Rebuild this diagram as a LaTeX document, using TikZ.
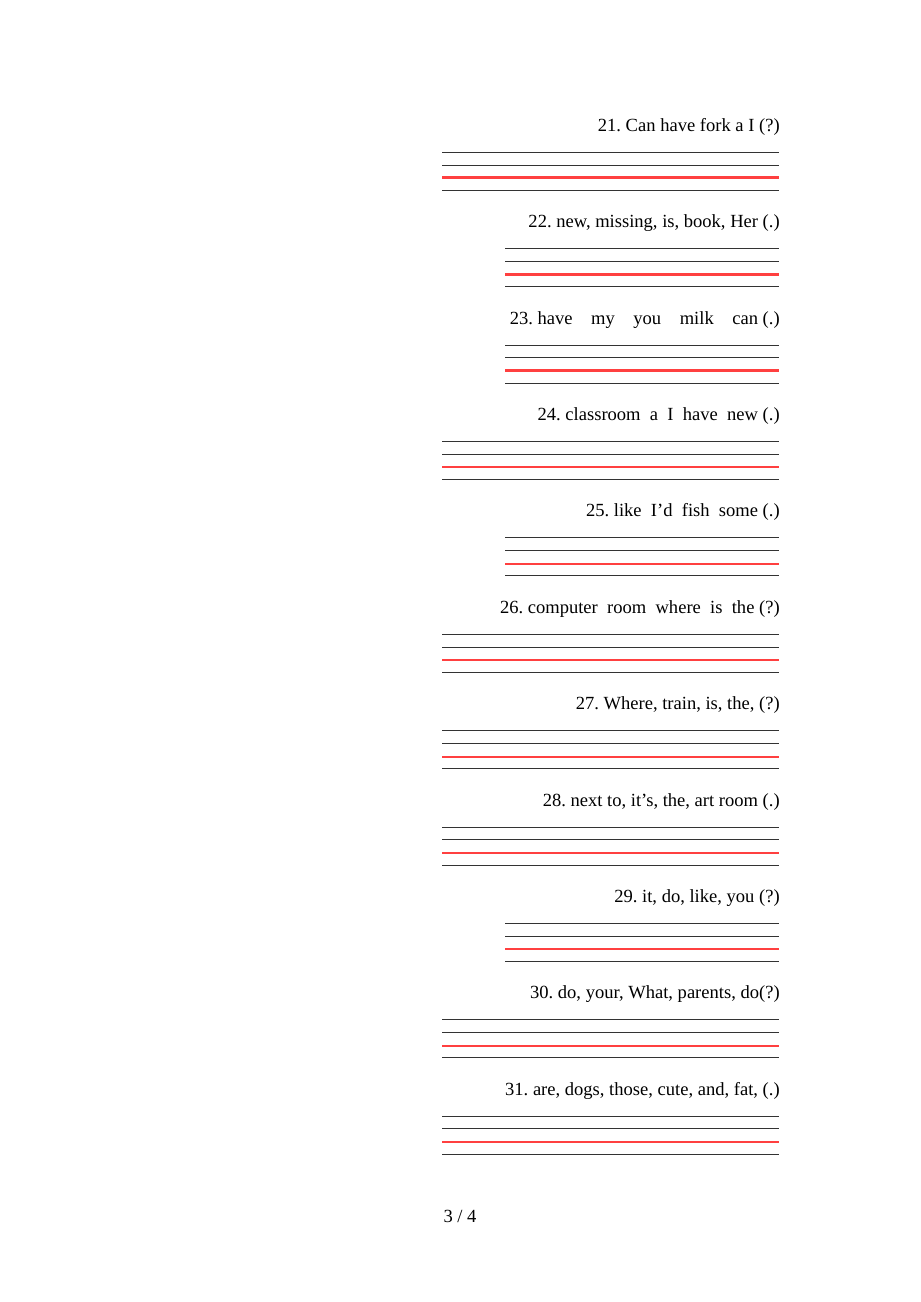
\documentclass[tikz,border=0pt]{standalone}
\usepackage{fontspec}
\setmainfont{Liberation Serif}
\usepackage{tikz}
\usetikzlibrary{positioning}
\colorlet{ruleink}{black!80}
\colorlet{redink}{red!75}
\frenchspacing

\begin{document}
\begin{tikzpicture}[x=0.647pt,y=-0.647pt]
\tikzstyle{item}=[anchor=base east,inner sep=0pt,font=\fontsize{12}{14}\selectfont]
\tikzstyle{rule}=[draw=ruleink,line width=1.2pt]
\tikzstyle{redrule}=[draw=redink,line width=1.3pt]
\useasboundingbox[fill=white] (0,0) rectangle (920,1302);
\node [item] (q21) at(780,131.3) {21. Can have fork a I (?)};
\node [item] (q22) at(780,227.7) {22. new, missing, is, book, Her (.)};
\node [item] (q23) at(780,324.1) {23. have\quad my\quad you\quad milk\quad can (.)};
\node [item] (q24) at(780,420.5) {24. classroom\ \ a\ \ I\ \ have\ \ new (.)};
\node [item] (q25) at(780,516.9) {25. like\ \ I’d\ \ fish\ \ some (.)};
\node [item] (q26) at(780,613.3) {26. computer\ \ room\ \ where\ \ is\ \ the (?)};
\node [item] (q27) at(780,709.7) {27. Where, train, is, the, (?)};
\node [item] (q28) at(780,806.1) {28. next to, it’s, the, art room (.)};
\node [item] (q29) at(780,902.5) {29. it, do, like, you (?)};
\node [item] (q30) at(780,998.9) {30. do, your, What, parents, do(?)};
\node [item] (q31) at(780,1095.3) {31. are, dogs, those, cute, and, fat, (.)};
\node [item,anchor=base] (page) at(460,1222) {3 / 4};
% writing lines
\path [rule] (442,152.5) -- (779,152.5) (442,165.5) -- (779,165.5) (442,190.5) -- (779,190.5);
\path [redrule] (442,177.5) -- (779,177.5);
\path [rule] (505,248.5) -- (779,248.5) (505,261.5) -- (779,261.5) (505,286.5) -- (779,286.5);
\path [redrule] (505,274.5) -- (779,274.5);
\path [rule] (505,345.5) -- (779,345.5) (505,357.5) -- (779,357.5) (505,383.5) -- (779,383.5);
\path [redrule] (505,370.5) -- (779,370.5);
\path [rule] (442,441.5) -- (779,441.5) (442,454.5) -- (779,454.5) (442,479.5) -- (779,479.5);
\path [redrule] (442,466.5) -- (779,466.5);
\path [rule] (505,537.5) -- (779,537.5) (505,550.5) -- (779,550.5) (505,575.5) -- (779,575.5);
\path [redrule] (505,563.5) -- (779,563.5);
\path [rule] (442,634.5) -- (779,634.5) (442,647.5) -- (779,647.5) (442,672.5) -- (779,672.5);
\path [redrule] (442,659.5) -- (779,659.5);
\path [rule] (442,730.5) -- (779,730.5) (442,743.5) -- (779,743.5) (442,768.5) -- (779,768.5);
\path [redrule] (442,756.5) -- (779,756.5);
\path [rule] (442,827.5) -- (779,827.5) (442,839.5) -- (779,839.5) (442,865.5) -- (779,865.5);
\path [redrule] (442,852.5) -- (779,852.5);
\path [rule] (505,923.5) -- (779,923.5) (505,936.5) -- (779,936.5) (505,961.5) -- (779,961.5);
\path [redrule] (505,948.5) -- (779,948.5);
\path [rule] (442,1019.5) -- (779,1019.5) (442,1032.5) -- (779,1032.5) (442,1057.5) -- (779,1057.5);
\path [redrule] (442,1045.5) -- (779,1045.5);
\path [rule] (442,1116.5) -- (779,1116.5) (442,1128.5) -- (779,1128.5) (442,1154.5) -- (779,1154.5);
\path [redrule] (442,1141.5) -- (779,1141.5);
\end{tikzpicture}
\end{document}
